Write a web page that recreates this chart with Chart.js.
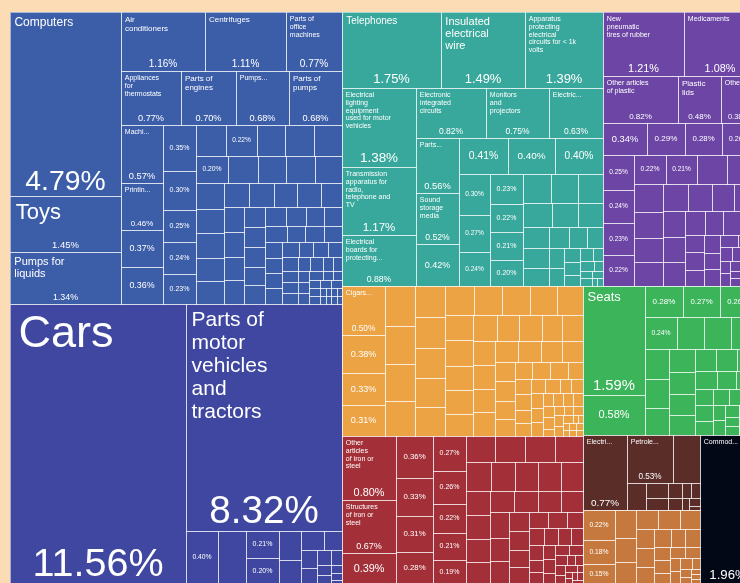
<!DOCTYPE html>
<html>
<head>
<meta charset="utf-8">
<script src="https://cdn.jsdelivr.net/npm/chart.js@4.4.1/dist/chart.umd.min.js"></script>
<style>
  html, body { margin: 0; padding: 0; background: #fcdcb5; }
  canvas { display: block; }
</style>
</head>
<body>
<canvas id="treemap" width="740" height="583"></canvas>
<script>
// Export shares (% of total), one array per product group, largest first
const machineShares = [4.79, 1.45, 1.34, 1.16, 1.11, 0.77, 0.77, 0.70, 0.68, 0.68, 0.57, 0.46, 0.37, 0.36, 0.35, 0.30, 0.25, 0.24, 0.23,
  0.22, 0.22, 0.21, 0.21, 0.20, 0.20, 0.19, 0.18, 0.18, 0.17, 0.17, 0.16, 0.16, 0.15, 0.15, 0.14, 0.14, 0.13, 0.13, 0.12, 0.12, 0.12,
  0.11, 0.11, 0.10, 0.10, 0.10, 0.09, 0.09, 0.09, 0.09, 0.08, 0.08, 0.08, 0.07, 0.07, 0.07, 0.06, 0.06, 0.06, 0.06, 0.06, 0.05, 0.05,
  0.05, 0.05, 0.04, 0.04, 0.04, 0.04, 0.04, 0.03, 0.03, 0.03, 0.03, 0.03, 0.03, 0.02, 0.02, 0.02, 0.02, 0.02, 0.02, 0.02, 0.01, 0.01,
  0.01, 0.01, 0.01, 0.01, 0.01, 0.01];
const machineNames = ['Computers', 'Toys', 'Pumps for liquids', 'Air conditioners', 'Centrifuges', 'Parts of office machines',
  'Appliances for thermostats', 'Parts of engines', 'Pumps for compressors', 'Parts of pumps', 'Machinery having individual functions',
  'Printing machinery'];

const transportShares = [11.56, 8.32, 0.40, 0.35, 0.21, 0.20, 0.15, 0.12, 0.10, 0.08, 0.07, 0.06, 0.05, 0.04, 0.03, 0.03, 0.02, 0.02, 0.01];
const transportNames = ['Cars', 'Parts of motor vehicles and tractors'];

const electronicShares = [1.75, 1.49, 1.39, 1.38, 1.17, 0.88, 0.82, 0.75, 0.63, 0.56, 0.52, 0.42, 0.41, 0.40, 0.40, 0.30, 0.27, 0.24,
  0.23, 0.22, 0.21, 0.20, 0.19, 0.18, 0.17, 0.16, 0.15, 0.14, 0.13, 0.12, 0.11, 0.10, 0.09, 0.08, 0.07, 0.06, 0.05, 0.05, 0.04, 0.04,
  0.03, 0.03, 0.02, 0.02, 0.02, 0.02, 0.01, 0.01];
const electronicNames = ['Telephones', 'Insulated electrical wire', 'Apparatus protecting electrical circuits for < 1k volts',
  'Electrical lighting equipment used for motor vehicles', 'Transmission apparatus for radio, telephone and TV',
  'Electrical boards for protecting electrical circuits', 'Electronic integrated circuits', 'Monitors and projectors',
  'Electric motors and generators', 'Parts of radio and TV apparatus', 'Sound storage media'];

const chemicalShares = [1.21, 1.08, 0.82, 0.48, 0.38, 0.34, 0.29, 0.28, 0.26, 0.25, 0.24, 0.23, 0.22, 0.22, 0.21, 0.20, 0.20, 0.19,
  0.18, 0.17, 0.16, 0.16, 0.15, 0.14, 0.14, 0.13, 0.12, 0.12, 0.11, 0.10, 0.09, 0.09, 0.08, 0.08, 0.07, 0.07, 0.06, 0.06, 0.05, 0.05,
  0.04, 0.04, 0.04, 0.03, 0.03, 0.03, 0.02, 0.02, 0.02, 0.02, 0.01, 0.01, 0.01, 0.01];
const chemicalNames = ['New pneumatic tires of rubber', 'Medicaments', 'Other articles of plastic', 'Plastic lids', 'Other plastic sheetings'];

const foodShares = [0.50, 0.38, 0.33, 0.31, 0.29, 0.27, 0.26, 0.25, 0.22, 0.21, 0.21, 0.20, 0.20, 0.20, 0.19, 0.19, 0.18, 0.18, 0.17,
  0.17, 0.16, 0.16, 0.15, 0.15, 0.14, 0.14, 0.13, 0.13, 0.12, 0.12, 0.12, 0.12, 0.11, 0.11, 0.10, 0.10, 0.09, 0.09, 0.08, 0.08, 0.07,
  0.07, 0.07, 0.06, 0.06, 0.06, 0.05, 0.05, 0.05, 0.05, 0.04, 0.04, 0.04, 0.04, 0.04, 0.03, 0.03, 0.03, 0.03, 0.03, 0.03, 0.02, 0.02,
  0.02, 0.02, 0.02, 0.02, 0.02, 0.01, 0.01, 0.01, 0.01, 0.01, 0.01, 0.01, 0.01];
const foodNames = ['Cigars, cheroots and cigarettes'];

const metalShares = [0.80, 0.67, 0.39, 0.36, 0.33, 0.31, 0.28, 0.27, 0.26, 0.22, 0.21, 0.19, 0.18, 0.18, 0.18, 0.17, 0.17, 0.16, 0.16,
  0.15, 0.15, 0.14, 0.14, 0.13, 0.13, 0.12, 0.12, 0.12, 0.11, 0.11, 0.10, 0.10, 0.09, 0.09, 0.08, 0.08, 0.07, 0.07, 0.06, 0.06, 0.06,
  0.05, 0.05, 0.05, 0.04, 0.04, 0.04, 0.04, 0.03, 0.03, 0.03, 0.03, 0.02, 0.02, 0.02, 0.02, 0.02, 0.01, 0.01, 0.01, 0.01, 0.01, 0.01];
const metalNames = ['Other articles of iron or steel', 'Structures of iron or steel'];

const miscShares = [1.59, 0.58, 0.28, 0.27, 0.26, 0.24, 0.21, 0.20, 0.19, 0.17, 0.16, 0.15, 0.14, 0.13, 0.13, 0.12, 0.11, 0.11, 0.10,
  0.09, 0.08, 0.08, 0.07, 0.07, 0.06, 0.06, 0.05, 0.05, 0.04, 0.04, 0.04, 0.03, 0.03, 0.03, 0.02, 0.02, 0.02, 0.01, 0.01, 0.01];
const miscNames = ['Seats'];

const mineralShares = [0.77, 0.53, 0.30, 0.12, 0.08, 0.06, 0.05, 0.04, 0.03, 0.03, 0.02, 0.02, 0.01];
const mineralNames = ['Electrical energy', 'Petroleum gas'];

const hideShares = [0.22, 0.18, 0.15, 0.14, 0.12, 0.11, 0.10, 0.10, 0.09, 0.08, 0.08, 0.07, 0.07, 0.06, 0.06, 0.05, 0.05, 0.04, 0.04,
  0.04, 0.03, 0.03, 0.03, 0.02, 0.02, 0.02, 0.01, 0.01, 0.01];
const hideNames = [];

const otherShares = [1.96];
const otherNames = ['Commodities not specified'];

const groupLabels = ['Machines', 'Transportation', 'Electronics', 'Chemicals & plastics', 'Foodstuffs', 'Metals',
  'Miscellaneous', 'Mineral products', 'Animal hides', 'Not specified'];
const groupShares = [machineShares, transportShares, electronicShares, chemicalShares, foodShares, metalShares,
  miscShares, mineralShares, hideShares, otherShares];
const groupNames = [machineNames, transportNames, electronicNames, chemicalNames, foodNames, metalNames,
  miscNames, mineralNames, hideNames, otherNames];

// styles
const groupColors = ['#3c5ea9', '#3f47a0', '#39a89c', '#6c45a5', '#eba343', '#a32f38', '#3cb45a', '#5a2d29', '#c5793e', '#030817'];
const FONT = '"Liberation Sans", Arial, Helvetica, sans-serif';
const LINE = 'rgba(255,255,255,0.55)';

// the picture is a crop: the treemap runs a little past the right edge
const mapWidth = 746, mapHeight = 572;
const viewWidth = 730, viewHeight = 571;

// squarified treemap (Bruls et al., as in d3 with ratio 1)
function squarify(items, x0, y0, x1, y1) {
  const out = [];
  let value = items.reduce((s, d) => s + d.value, 0);
  let i0 = 0, i1 = 0;
  const n = items.length;
  while (i0 < n) {
    const dx = x1 - x0, dy = y1 - y0;
    let sum = items[i1++].value, minV = sum, maxV = sum;
    const alpha = Math.max(dy / dx, dx / dy) / value;
    let beta = sum * sum * alpha;
    let best = Math.max(maxV / beta, beta / minV);
    for (; i1 < n; ++i1) {
      const v = items[i1].value;
      sum += v;
      if (v < minV) minV = v;
      if (v > maxV) maxV = v;
      beta = sum * sum * alpha;
      const r = Math.max(maxV / beta, beta / minV);
      if (r > best) { sum -= v; break; }
      best = r;
    }
    const row = items.slice(i0, i1);
    if (dx < dy) {
      const yb = i1 >= n ? y1 : y0 + dy * sum / value;
      let x = x0;
      row.forEach(d => { const w = dx * d.value / sum; out.push({ d, x0: x, y0, x1: x + w, y1: yb }); x += w; });
      y0 = yb;
    } else {
      const xb = i1 >= n ? x1 : x0 + dx * sum / value;
      let y = y0;
      row.forEach(d => { const h = dy * d.value / sum; out.push({ d, x0, y0: y, x1: xb, y1: y + h }); y += h; });
      x0 = xb;
    }
    value -= sum;
    i0 = i1;
  }
  return out;
}

const groups = groupShares.map((vals, g) => ({
  g,
  value: vals.reduce((a, b) => a + b, 0),
  children: vals.map((v, i) => ({ value: v, name: groupNames[g][i] || '' })).sort((a, b) => b.value - a.value)
}));

const groupRects = squarify(groups.slice().sort((a, b) => b.value - a.value), 0, 0, mapWidth, mapHeight);

const datasets = groups.map(grp => {
  const gr = groupRects.find(r => r.d === grp);
  const cells = squarify(grp.children, gr.x0, gr.y0, gr.x1, gr.y1);
  return {
    label: groupLabels[grp.g],
    backgroundColor: groupColors[grp.g],
    pointRadius: 0,
    data: cells.map(c => ({
      x: (c.x0 + c.x1) / 2, y: (c.y0 + c.y1) / 2,
      x0: c.x0, x1: c.x1, y0: c.y0, y1: c.y1,
      share: c.d.value, name: c.d.name
    }))
  };
});

function setFont(ctx, f) { ctx.font = f + 'px ' + FONT; }

function wrapWords(ctx, text, maxW) {
  const words = text.split(' ');
  const lines = [];
  let line = '';
  words.forEach(w => {
    const test = line ? line + ' ' + w : w;
    if (!line || ctx.measureText(test).width <= maxW) line = test;
    else { lines.push(line); line = w; }
  });
  if (line) lines.push(line);
  return lines;
}

// name block is kept to a narrow column of the cell; small cells fall back to 7px, cut with "..."
function fitName(ctx, name, w, fitH, fullH) {
  let maxW = 0.55 * w;
  for (let f = 50; f >= 7; f--) {
    const pad = 3 + f * 0.12;
    setFont(ctx, f);
    const lines = wrapWords(ctx, name, maxW);
    const ok = lines.every(l => ctx.measureText(l).width <= maxW);
    if (ok && lines.length * f * 1.1 + pad <= fitH) return { f, pad, lines };
  }
  const f = 7, pad = 3.8;
  maxW = 0.62 * w;
  setFont(ctx, f);
  let maxLines = Math.floor((fullH - pad) / (f * 1.1));
  const all = wrapWords(ctx, name, maxW);
  const fits = all.length <= maxLines && all.every(l => ctx.measureText(l).width <= maxW);
  if (fits) return { f, pad, lines: all };
  if (w < 62) maxLines = Math.min(maxLines, 1);
  if (maxLines < 1) return null;
  let lines = all.slice(0, maxLines);
  const cut = lines.findIndex(l => ctx.measureText(l).width > maxW);
  if (cut >= 0) lines = lines.slice(0, cut + 1);
  let last = lines[lines.length - 1];
  while (last && ctx.measureText(last + '...').width > maxW) {
    last = last.includes(' ') ? last.slice(0, last.lastIndexOf(' ')) : last.slice(0, -1);
  }
  if (last) lines[lines.length - 1] = last + '...';
  else lines.pop();
  return lines.length ? { f, pad, lines } : null;
}

function drawLabel(ctx, c, r) {
  const w = r.x1 - r.x0, h = r.y1 - r.y0;
  const share = c.share.toFixed(2) + '%';
  setFont(ctx, 100);
  const shareEm = ctx.measureText(share).width / 100;
  ctx.fillStyle = '#ffffff';
  if (c.name && w >= 30 && h >= 40) {
    const sf = Math.min((w - 8) * 0.78 / shareEm, h * 0.17, 40);
    const room = h - sf * 1.25 - 6;
    const fit = fitName(ctx, c.name, w, Math.min(room, h * 0.55), room);
    if (fit) {
      setFont(ctx, fit.f);
      ctx.textAlign = 'left';
      ctx.textBaseline = 'top';
      fit.lines.forEach((l, i) => ctx.fillText(l, r.x0 + fit.pad, r.y0 + fit.pad + i * fit.f * 1.1));
    }
    if (sf >= 6.5) {
      setFont(ctx, sf);
      ctx.textAlign = 'center';
      ctx.textBaseline = 'alphabetic';
      ctx.fillText(share, (r.x0 + r.x1) / 2, r.y1 - (3 + sf * 0.12));
    }
  } else if (w >= 22 && h >= 14) {
    const sf = Math.min(w * 0.6 / shareEm, h * 0.35, 11);
    if (sf >= 6.5) {
      setFont(ctx, sf);
      ctx.textAlign = 'center';
      ctx.textBaseline = 'middle';
      ctx.fillText(share, (r.x0 + r.x1) / 2, (r.y0 + r.y1) / 2);
    }
  }
}

const treemapPlugin = {
  id: 'treemapCells',
  afterDatasetsDraw(chart) {
    const { ctx, chartArea, scales: { x, y } } = chart;
    const rects = [];
    chart.data.datasets.forEach(ds => ds.data.forEach(c => {
      rects.push({
        c, color: ds.backgroundColor,
        x0: Math.round(x.getPixelForValue(c.x0)), x1: Math.round(x.getPixelForValue(c.x1)),
        y0: Math.round(y.getPixelForValue(c.y0)), y1: Math.round(y.getPixelForValue(c.y1))
      });
    }));
    ctx.save();
    ctx.beginPath();
    ctx.rect(chartArea.left, chartArea.top, chartArea.right - chartArea.left, chartArea.bottom - chartArea.top);
    ctx.clip();
    rects.forEach(r => { ctx.fillStyle = r.color; ctx.fillRect(r.x0, r.y0, r.x1 - r.x0, r.y1 - r.y0); });
    ctx.strokeStyle = LINE;
    ctx.lineWidth = 1;
    rects.forEach(r => ctx.strokeRect(r.x0 + 0.5, r.y0 + 0.5, r.x1 - r.x0, r.y1 - r.y0));
    rects.forEach(r => drawLabel(ctx, r.c, r));
    ctx.restore();
  }
};

new Chart(document.getElementById('treemap'), {
  type: 'scatter',
  data: { datasets },
  options: {
    responsive: false,
    animation: false,
    layout: { padding: { left: 10, top: 12, right: 0, bottom: 0 } },
    scales: {
      x: { type: 'linear', min: 0, max: viewWidth, display: false },
      y: { type: 'linear', min: 0, max: viewHeight, reverse: true, display: false }
    },
    plugins: { legend: { display: false }, tooltip: { enabled: false } }
  },
  plugins: [treemapPlugin]
});
</script>
</body>
</html>
